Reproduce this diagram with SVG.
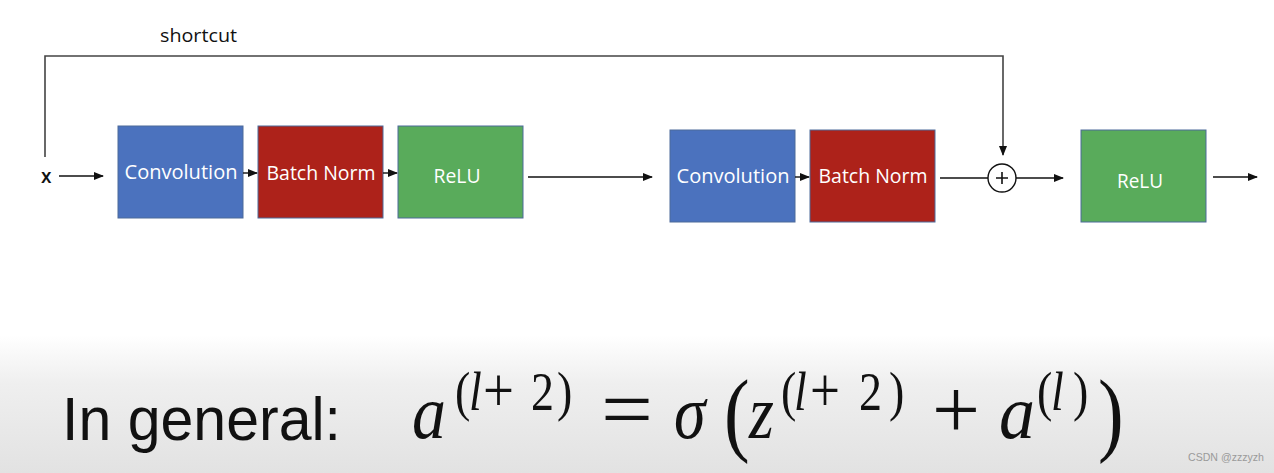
<svg xmlns="http://www.w3.org/2000/svg" width="1274" height="473" viewBox="0 0 1274 473">
<defs>
<linearGradient id="bg" x1="0" y1="0" x2="0" y2="1">
<stop offset="0" stop-color="#ffffff"/>
<stop offset="0.35" stop-color="#efefef"/>
<stop offset="1" stop-color="#e2e2e2"/>
</linearGradient>
<marker id="ah" markerWidth="10" markerHeight="8" refX="9" refY="4" orient="auto" markerUnits="userSpaceOnUse">
<path d="M0,0 L10,4 L0,8 Z" fill="#111"/>
</marker>
</defs>
<style>
.box{stroke:#4d6a9a;stroke-width:1}
.blue{fill:#4b72be}
.red{fill:#ad221a}
.green{fill:#59ab5b}
.lbl{font-family:"Open Sans",sans-serif;font-size:20px;fill:#ffffff}
.conn{stroke:#111;stroke-width:1.4;fill:none}
.short{stroke:#444;stroke-width:1.6;fill:none}
.txt{font-family:"Open Sans",sans-serif;fill:#111}
.m{font-family:"Liberation Serif",serif;fill:#111}
.i{font-style:italic}
</style>
<rect x="0" y="0" width="1274" height="473" fill="#ffffff"/>
<rect x="0" y="335" width="1274" height="138" fill="url(#bg)"/>

<text class="txt" x="160" y="42" font-size="19" textLength="77" lengthAdjust="spacingAndGlyphs">shortcut</text>

<g id="input">
<text class="txt" x="41" y="183" font-size="19" font-weight="600">x</text>
</g>

<g id="conv1">
<rect class="box blue" x="118" y="126" width="125" height="92"/>
<text class="lbl" x="181" y="179" text-anchor="middle" textLength="113" lengthAdjust="spacingAndGlyphs">Convolution</text>
</g>
<g id="bn1">
<rect class="box red" x="258" y="126" width="125" height="92"/>
<text class="lbl" x="321" y="180" text-anchor="middle" textLength="109" lengthAdjust="spacingAndGlyphs">Batch Norm</text>
</g>
<g id="relu1">
<rect class="box green" x="398" y="126" width="125" height="92"/>
<text class="lbl" x="457" y="183" text-anchor="middle" textLength="47" lengthAdjust="spacingAndGlyphs">ReLU</text>
</g>
<g id="conv2">
<rect class="box blue" x="670" y="130" width="125" height="92"/>
<text class="lbl" x="733" y="183" text-anchor="middle" textLength="113" lengthAdjust="spacingAndGlyphs">Convolution</text>
</g>
<g id="bn2">
<rect class="box red" x="810" y="130" width="125" height="92"/>
<text class="lbl" x="873" y="183" text-anchor="middle" textLength="109" lengthAdjust="spacingAndGlyphs">Batch Norm</text>
</g>
<g id="add">
<circle cx="1002" cy="178" r="14" fill="#ffffff" stroke="#111" stroke-width="1.4"/>
<path d="M996,178 H1008 M1002,172 V184" stroke="#111" stroke-width="1.6"/>
</g>
<g id="relu2">
<rect class="box green" x="1081" y="130" width="125" height="92"/>
<text class="lbl" x="1140" y="188" text-anchor="middle" textLength="46" lengthAdjust="spacingAndGlyphs">ReLU</text>
</g>

<g id="connectors">
<path class="short" d="M45,157 V56 H1003 V155" marker-end="url(#ah)"/>
<line class="conn" x1="59" y1="176" x2="103" y2="176" marker-end="url(#ah)"/>
<line class="conn" x1="243" y1="173" x2="257" y2="173" marker-end="url(#ah)"/>
<line class="conn" x1="383" y1="173" x2="397" y2="173" marker-end="url(#ah)"/>
<line class="conn" x1="528" y1="177" x2="652" y2="177" marker-end="url(#ah)"/>
<line class="conn" x1="795" y1="177" x2="809" y2="177" marker-end="url(#ah)"/>
<line class="conn" x1="940" y1="178" x2="988" y2="178"/>
<line class="conn" x1="1016" y1="178" x2="1063" y2="178" marker-end="url(#ah)"/>
<line class="conn" x1="1213" y1="177" x2="1257" y2="177" marker-end="url(#ah)"/>
</g>

<text x="62" y="440" font-family="Liberation Sans, Arial, sans-serif" font-size="61" fill="#111" textLength="279" lengthAdjust="spacingAndGlyphs">In general:</text>

<g id="formula" transform="matrix(1,0,0,1.2,0,-87.6)">
<text class="m i" x="412" y="438" font-size="64" textLength="34" lengthAdjust="spacingAndGlyphs">a</text>
<text class="m" y="415" font-size="46"><tspan x="455">(</tspan><tspan x="469" class="i">l</tspan><tspan x="531">2</tspan><tspan x="557">)</tspan></text>
<text class="m" x="483" y="416" font-size="52" textLength="31" lengthAdjust="spacingAndGlyphs">+</text>
<text class="m" x="601" y="438" font-size="70" textLength="52" lengthAdjust="spacingAndGlyphs">=</text>
<text class="m i" x="674" y="438" font-size="64">σ</text>
<text class="m" x="724" y="443" font-size="77">(</text>
<text class="m i" x="749" y="438" font-size="64">z</text>
<text class="m" y="415" font-size="46"><tspan x="781">(</tspan><tspan x="794" class="i">l</tspan><tspan x="859">2</tspan><tspan x="889">)</tspan></text>
<text class="m" x="810" y="416" font-size="52" textLength="30" lengthAdjust="spacingAndGlyphs">+</text>
<text class="m" x="932" y="438" font-size="70" textLength="48" lengthAdjust="spacingAndGlyphs">+</text>
<text class="m i" x="999" y="438" font-size="64" textLength="36" lengthAdjust="spacingAndGlyphs">a</text>
<text class="m" y="415" font-size="46"><tspan x="1037">(</tspan><tspan x="1051" class="i">l</tspan><tspan x="1073">)</tspan></text>
<text class="m" x="1098" y="443" font-size="77">)</text>
</g>

<text x="1188" y="461" font-family="Liberation Sans, Arial, sans-serif" font-size="11" fill="#9a9a9a" textLength="76" lengthAdjust="spacingAndGlyphs">CSDN @zzzyzh</text>
</svg>
